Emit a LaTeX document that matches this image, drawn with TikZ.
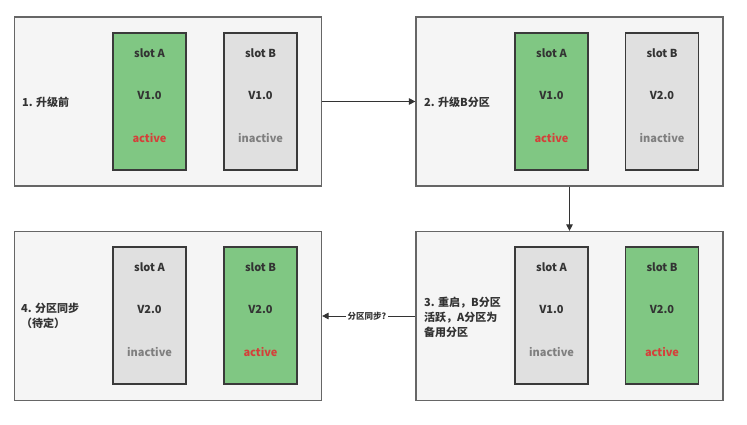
\documentclass[tikz,border=0pt]{standalone}
\usepackage{fontspec}
\setmainfont{Noto Sans CJK SC}
\usetikzlibrary{arrows.meta,calc}
\definecolor{panelfill}{HTML}{F5F5F5}
\definecolor{panelline}{HTML}{666666}
\definecolor{greenfill}{HTML}{80C783}
\definecolor{greyfill}{HTML}{E0E0E0}
\definecolor{slotline}{HTML}{3A3A3A}
\definecolor{txt}{HTML}{333333}
\definecolor{actred}{HTML}{D4403A}
\definecolor{inact}{HTML}{7F7F7F}
\begin{document}
\begin{tikzpicture}[x=1pt,y=-1pt,
  panel/.style={draw=panelline,fill=panelfill,line width=1.2pt,minimum width=307pt,minimum height=169pt,inner sep=0pt},
  slotg/.style={draw=slotline,fill=greenfill,line width=1.1pt,minimum width=73pt,minimum height=137pt,inner sep=0pt},
  sloty/.style={draw=slotline,fill=greyfill,line width=1.1pt,minimum width=73pt,minimum height=137pt,inner sep=0pt},
  lbl/.style={font=\fontsize{11}{13}\selectfont\bfseries,text=txt,inner sep=0pt},
  act/.style={lbl,text=actred},
  ina/.style={lbl,text=inact},
  steplbl/.style={font=\fontsize{11}{15}\selectfont\bfseries,text=txt,inner sep=0pt,anchor=west,align=left},
  arr/.style={draw=txt,line width=0.9pt,-{Triangle[length=6.5pt,width=6.5pt]}}
]
\useasboundingbox[fill=white] (0,0) rectangle (747,425);
% panels
\node[panel] (p1) at (168,101.5) {};
\node[panel] (p2) at (569.5,101.5) {};
\node[panel] (p3) at (569.5,316) {};
\node[panel] (p4) at (168,316) {};
% slots
\node[slotg] (a1) at (149.5,101.5) {};
\node[sloty] (b1) at (260.5,101.5) {};
\node[slotg] (a2) at (551.5,101.5) {};
\node[sloty] (b2) at (662,101.5) {};
\node[sloty] (a3) at (551.5,315.5) {};
\node[slotg] (b3) at (662,315.5) {};
\node[sloty] (a4) at (149.5,315.5) {};
\node[slotg] (b4) at (260.5,315.5) {};
% slot texts
\foreach \s/\n/\v/\st/\sty in {a1/slot A/V1.0/active/act, b1/slot B/V1.0/inactive/ina,
  a2/slot A/V1.0/active/act, b2/slot B/V2.0/inactive/ina,
  a3/slot A/V1.0/inactive/ina, b3/slot B/V2.0/active/act,
  a4/slot A/V2.0/inactive/ina, b4/slot B/V2.0/active/act}{
  \node[lbl] (\s n) at ($(\s.center)+(0,-48.5)$) {\n};
  \node[lbl] (\s v) at ($(\s.center)+(0,-6.5)$) {\v};
  \node[\sty] (\s s) at ($(\s.center)+(0,36.5)$) {\st};
}
% step labels
\node[steplbl] (l1) at (22,102) {1. 升级前};
\node[steplbl] (l2) at (424,102) {2. 升级B分区};
\node[steplbl] (l3) at (424,317) {3. 重启，B分区\\活跃，A分区为\\备用分区};
\node[steplbl] (l4) at (21,316) {4. 分区同步\\（待定）};
% connectors
\draw[arr] (p1.east) -- (p2.west);
\draw[arr] (p2.south) -- (p3.north);
\draw[arr] (p3.west) -- node[pos=0.52,fill=white,inner sep=2pt,font=\fontsize{8.5}{9}\selectfont\bfseries,text=txt] (sync) {分区同步?} (p4.east);
\end{tikzpicture}
\end{document}
